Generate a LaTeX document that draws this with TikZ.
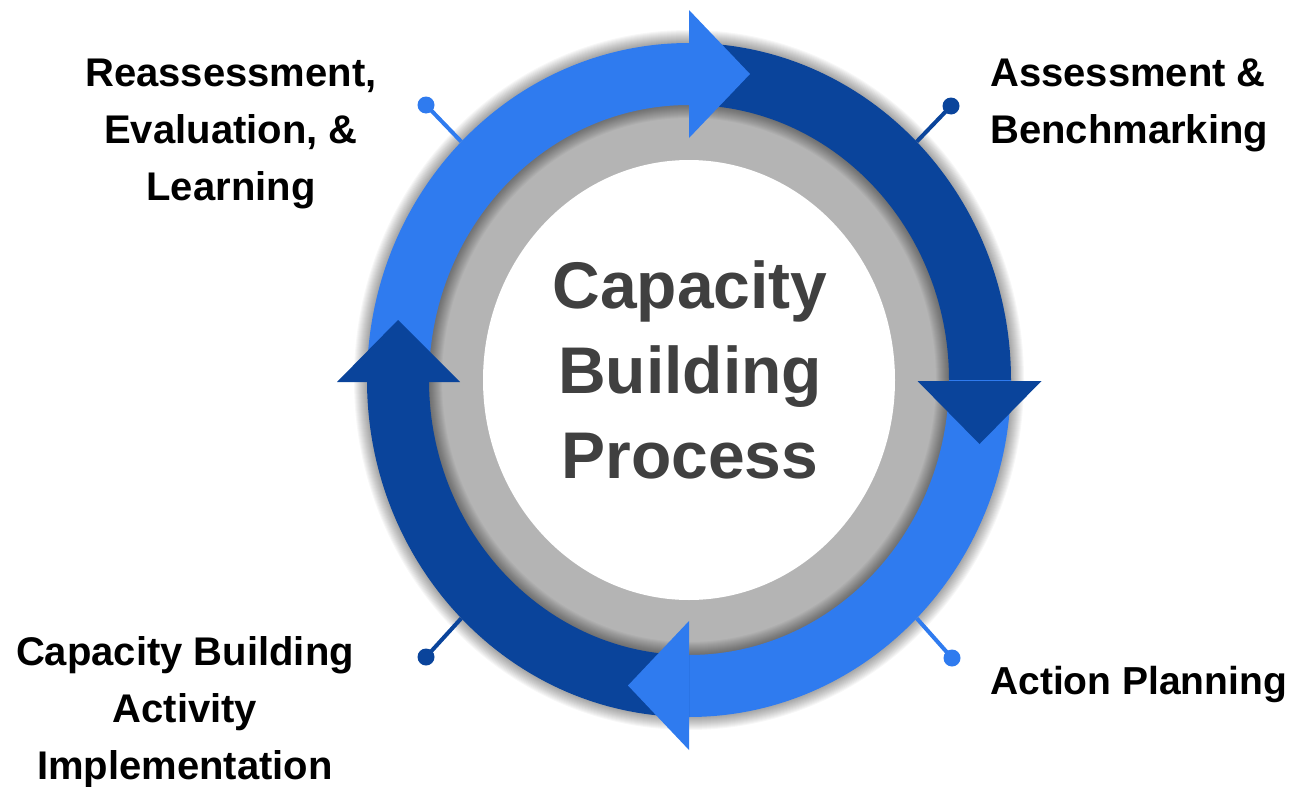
\documentclass[tikz,border=0pt]{standalone}
\usepackage{fontspec}
\setmainfont{Liberation Sans}
\usetikzlibrary{calc}
\definecolor{lightb}{HTML}{2F7BEF}
\definecolor{darkb}{HTML}{0A449B}
\definecolor{ringgray}{HTML}{B4B4B4}
\definecolor{centertext}{HTML}{404040}
\tikzset{
  lbl/.style={font=\bfseries\fontsize{40}{57}\selectfont, text=black, inner sep=0pt},
  titlelbl/.style={font=\bfseries\fontsize{66}{85}\selectfont, text=centertext, inner sep=0pt, align=center},
  dotl/.style={circle, fill=lightb, minimum size=17pt, inner sep=0pt},
  dotd/.style={circle, fill=darkb, minimum size=17pt, inner sep=0pt},
  leadl/.style={draw=lightb, line width=4pt},
  leadd/.style={draw=darkb, line width=4pt},
  shadowring/.style={fill=black, opacity=0.032, even odd rule},
}
\newcommand\bandseg[3]{%
  \fill[#1] ($(C)+(#2:322 and 337)$) arc[start angle=#2, end angle=#3, x radius=322, y radius=337]
    -- ($(C)+(#3:260 and 275)$) arc[start angle=#3, end angle=#2, x radius=260, y radius=275] -- cycle;}
\begin{document}
\begin{tikzpicture}[x=1pt, y=1pt, yscale=-1]
\useasboundingbox (0,0) rectangle (1302,787);
\coordinate (C) at (689,380);
% gray ring and white centre
\fill[ringgray] (C) ellipse[x radius=262, y radius=277];
\fill[white] (C) ellipse[x radius=206, y radius=220];
% soft shadow of the blue ring
\foreach \k in {1,...,13}{
  \pgfmathsetmacro\ox{322+\k}\pgfmathsetmacro\oy{337+\k}
  \pgfmathsetmacro\ix{260-\k}\pgfmathsetmacro\iy{275-\k}
  \fill[shadowring, shift={(1,3)}] (C) ellipse[x radius=\ox, y radius=\oy] (C) ellipse[x radius=\ix, y radius=\iy];
}
% leader lines with dots
\coordinate (eTL) at ($(C)+(225:322 and 337)$);
\coordinate (eTR) at ($(C)+(315:322 and 337)$);
\coordinate (eBL) at ($(C)+(135:322 and 337)$);
\coordinate (eBR) at ($(C)+(45:322 and 337)$);
\node[dotl] (dTL) at (426,105) {};
\node[dotd] (dTR) at (951,106) {};
\node[dotd] (dBL) at (426,657) {};
\node[dotl] (dBR) at (952,658) {};
\draw[leadl] (dTL.center) -- (eTL);
\draw[leadd] (dTR.center) -- (eTR);
\draw[leadd] (dBL.center) -- (eBL);
\draw[leadl] (dBR.center) -- (eBR);
% ring segments
\bandseg{lightb}{180}{270}
\bandseg{darkb}{270}{360}
\bandseg{lightb}{0}{90}
\bandseg{darkb}{90}{180}
% arrowheads
\fill[lightb] (689,10) -- (750,74) -- (689,138) -- cycle;
\fill[darkb] (917.5,381) -- (1041.5,381) -- (979.5,444) -- cycle;
\fill[lightb] (689,621) -- (628,685.5) -- (689,750) -- cycle;
\fill[darkb] (337,382) -- (398,320) -- (460,382) -- cycle;
% labels
\node[lbl, align=center] (tTL) at (231,134) {Reassessment,\\Evaluation, \&\\Learning};
\node[lbl, align=left, anchor=west] (tTR) at (990,105) {Assessment \&\\Benchmarking};
\node[lbl, align=center] (tBL) at (185,712) {Capacity Building\\Activity\\Implementation};
\node[lbl, anchor=west, font=\bfseries\fontsize{39}{57}\selectfont] (tBR) at (990,684) {Action Planning};
\node[titlelbl] (title) at (690,370) {Capacity\\Building\\Process};
\end{tikzpicture}
\end{document}
